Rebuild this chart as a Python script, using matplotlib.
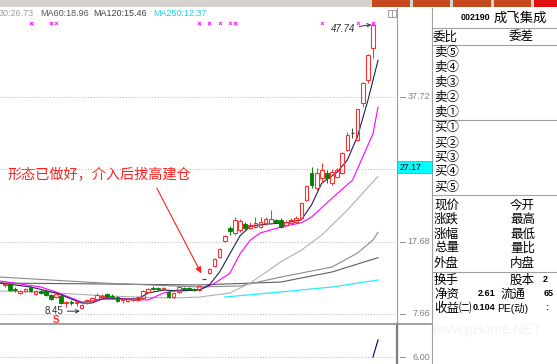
import matplotlib
matplotlib.use("Agg")
import matplotlib.pyplot as plt
from matplotlib.patches import Rectangle
import numpy as np

plt.rcParams['font.family'] = ['Liberation Sans', 'Noto Sans CJK SC', 'DejaVu Sans']
CJK = ['Noto Sans CJK SC', 'DejaVu Sans']

# daily candles, oldest first
opens = [11.68, 11.82, 11.12, 10.57, 10.85, 11.40, 10.43, 10.85, 10.85, 10.29,
         10.01, 10.15, 9.18, 9.32, 9.18, 8.49, 9.18, 9.46, 9.74, 10.01,
         10.43, 10.15, 10.01, 9.60, 9.46, 9.60, 9.60, 9.88, 10.71, 11.26,
         11.26, 11.12, 10.71, 10.01, 10.71, 11.26, 11.26, 11.12, 10.98, 12.51,
         13.34, 14.31, 15.55, 17.77, 19.57, 18.88, 19.30, 20.12, 19.57, 19.71,
         19.71, 20.26, 20.26, 20.68, 20.68, 19.99, 20.26, 20.40, 20.96, 23.45,
         27.19, 25.12, 26.50, 27.19, 25.81, 26.64, 27.19, 30.37, 32.66, 31.76,
         36.88, 40.07, 44.50]
highs = [12.09, 11.95, 11.40, 10.98, 11.26, 11.54, 10.98, 11.12, 10.98, 10.43,
         10.57, 10.29, 9.46, 9.60, 9.46, 9.04, 9.74, 10.01, 10.57, 10.43,
         10.57, 10.43, 10.15, 9.88, 9.88, 10.01, 10.15, 10.98, 11.26, 11.54,
         11.40, 11.40, 10.85, 10.71, 11.54, 11.40, 11.40, 11.26, 11.68, 12.55,
         14.03, 15.42, 16.80, 18.60, 19.85, 21.09, 20.82, 20.40, 20.40, 21.09,
         21.09, 21.09, 22.06, 20.82, 20.96, 20.68, 20.96, 21.23, 23.03, 25.53,
         28.02, 27.88, 28.57, 27.60, 27.74, 27.88, 30.10, 32.86, 33.42, 36.05,
         39.79, 43.67, 47.74]
lows = [11.40, 10.85, 10.71, 10.43, 10.71, 10.71, 10.29, 10.43, 10.15, 9.60,
        9.88, 9.04, 8.63, 8.91, 8.77, 8.45, 9.04, 9.32, 9.60, 9.88,
        9.88, 9.88, 9.32, 9.18, 9.32, 9.46, 9.46, 9.74, 10.57, 10.98,
        10.98, 10.98, 9.88, 9.88, 10.57, 10.98, 10.98, 10.85, 10.85, 12.47,
        13.20, 14.17, 15.42, 17.63, 18.60, 18.60, 19.02, 19.30, 19.43, 19.57,
        19.57, 19.99, 20.12, 20.26, 19.57, 19.85, 20.12, 20.26, 20.82, 23.31,
        25.12, 24.83, 25.81, 25.81, 25.53, 26.50, 27.05, 30.24, 32.04, 31.62,
        36.33, 39.65, 43.12]
closes = [11.82, 10.98, 10.98, 10.85, 11.12, 10.85, 10.85, 10.57, 10.29, 9.74,
          10.43, 9.18, 9.32, 9.18, 9.32, 8.91, 9.60, 9.88, 10.29, 10.15,
          10.01, 10.01, 9.46, 9.74, 9.74, 9.74, 10.01, 10.85, 11.12, 11.12,
          11.12, 11.26, 10.01, 10.57, 11.40, 11.12, 11.12, 10.98, 11.54, 12.51,
          13.89, 15.28, 16.66, 18.46, 19.16, 20.68, 20.54, 19.57, 19.99, 20.26,
          20.40, 20.82, 20.82, 20.40, 19.71, 20.40, 20.68, 20.96, 23.03, 25.39,
          25.53, 27.19, 27.60, 26.50, 27.33, 27.60, 29.96, 32.45, 32.66, 36.05,
          39.65, 43.53, 47.74]

# moving averages read at a few candle positions
ma5_idx = [-1, 5, 10, 15, 17, 19, 23, 26, 28, 31, 34, 38, 40, 42, 44, 46, 48, 51,
           55, 58, 60, 62, 65, 67, 69, 71, 73]
ma5_val = [11.95, 11.40, 10.57, 9.18, 9.18, 9.74, 9.74, 9.74, 10.57, 10.98, 10.85,
           10.98, 11.68, 13.48, 16.0, 18.5, 19.8, 20.1, 20.3, 20.7, 22.8, 25.8,
           27.3, 29.0, 32.3, 37.2, 42.8]
ma10_idx = [-1, 7, 10, 15, 17, 20, 28, 31, 34, 38, 41, 44, 46, 48, 50, 54, 58, 60,
            64, 68, 70, 72, 73]
ma10_val = [12.23, 11.40, 10.71, 9.32, 9.46, 9.88, 9.60, 10.57, 10.98, 10.98, 11.90,
            13.30, 16.0, 17.9, 18.9, 19.7, 20.3, 21.1, 23.7, 26.2, 29.4, 32.6, 36.3]
ma30_idx = [-1, 9, 19, 28, 33, 38, 44, 48, 52, 54, 58, 62, 67, 73]
ma30_val = [10.85, 10.60, 10.20, 9.95, 9.88, 10.00, 10.57, 11.95, 13.90, 14.90,
            16.50, 18.60, 22.06, 26.73]
ma60_idx = [-1, 19, 38, 46, 54, 64, 69, 72, 73]
ma60_val = [12.78, 11.95, 11.40, 11.54, 12.78, 14.17, 16.11, 17.91, 18.96]
ma120_idx = [-1, 19, 38, 54, 64, 73]
ma120_val = [11.95, 11.82, 11.68, 12.09, 13.48, 15.46]
ma250_idx = [43, 54, 64, 73]
ma250_val = [10.01, 10.71, 11.40, 12.37]

signal_idx = [5, 9, 10, 38, 40, 42, 44, 45, 62, 69, 72]
grid_vals = [7.66, 17.68, 27.70, 37.72]
label_vals = [7.66, 17.68, 37.72]
last_price = 27.17

ind_idx = [72, 73]
ind_val = [6.0, 7.7]

RED = '#ff3030'
GREEN = '#008000'

W, H = 557, 364
fig = plt.figure(figsize=(W / 100, H / 100), dpi=100)


def box(x, y, w, h):
    return [x / W, 1 - (y + h) / H, w / W, h / H]


bg = fig.add_axes([0, 0, 1, 1])
bg.set_xlim(0, W)
bg.set_ylim(H, 0)
bg.axis('off')

# top toolbar strip
bg.add_patch(Rectangle((0, 0), W, 7, facecolor='#d6d3ce', edgecolor='none'))
for x0, x1 in [(372, 410), (413, 450), (453, 491), (494, 531)]:
    bg.add_patch(Rectangle((x0, 0), x1 - x0, 6.5, facecolor='#c24a1c', edgecolor='none'))
bg.add_patch(Rectangle((534, 0), 23, 6.5, facecolor='#e01010', edgecolor='none'))

# frame lines
bg.plot([397, 397], [8, 364], color='#a0a0a0', lw=0.8)
bg.plot([397, 397], [324, 364], color='#808080', lw=1.6)
bg.plot([0, 432], [324, 324], color='#909090', lw=1.2)
bg.plot([432, 432], [8, 364], color='#a0a0a0', lw=0.8)
for yy in [28, 45, 120, 195, 272]:
    bg.plot([432, W], [yy, yy], color='#a0a0a0', lw=0.8)
bg.add_patch(Rectangle((388, 10), 8, 7, facecolor='white', edgecolor='#909090', lw=0.6))
bg.plot([392, 392], [10, 17], color='#909090', lw=0.6)

# MA header
bg.text(-1, 14, '30:26.73', color='#a0a0a0', fontsize=6.5, va='center')
bg.text(40, 14, 'MA60:18.96', color='#555555', fontsize=6.5, va='center')
bg.text(93, 14, 'MA120:15.46', color='#404040', fontsize=6.5, va='center')
bg.text(153, 14, 'MA250:12.37', color='#20d0e0', fontsize=6.5, va='center')

# right quote panel
bg.text(461, 18, '002190', fontsize=6.4, fontweight='bold', va='center')
bg.text(494, 18, '成飞集成', fontsize=9.6, family=CJK, va='center')
bg.text(433, 37, '委比', fontsize=9, family=CJK, va='center')
bg.text(509, 37, '委差', fontsize=9, family=CJK, va='center')
for s, yy in zip(['卖⑤', '卖④', '卖③', '卖②', '卖①'], [52, 67, 82, 97, 112]):
    bg.text(434, yy, s, fontsize=9, family=CJK, va='center')
for s, yy in zip(['买①', '买②', '买③', '买④', '买⑤'], [128, 143, 157, 172, 187]):
    bg.text(434, yy, s, fontsize=9, family=CJK, va='center')
left_q = ['现价', '涨跌', '涨幅', '总量', '外盘']
right_q = ['今开', '最高', '最低', '量比', '内盘']
for a, b, yy in zip(left_q, right_q, [205, 219, 234, 248, 263]):
    bg.text(434, yy, a, fontsize=9, family=CJK, va='center')
    bg.text(510, yy, b, fontsize=9, family=CJK, va='center')
bg.text(434, 280, '换手', fontsize=9, family=CJK, va='center')
bg.text(510, 280, '股本', fontsize=9, family=CJK, va='center')
bg.text(543, 280, '2', fontsize=6.5, fontweight='bold', va='center')
bg.text(434, 294, '净资', fontsize=9, family=CJK, va='center')
bg.text(495, 294, '2.61', fontsize=6.5, fontweight='bold', va='center', ha='right')
bg.text(500, 294, '流通', fontsize=9, family=CJK, va='center')
bg.text(544, 294, '65', fontsize=6.5, fontweight='bold', va='center')
bg.text(434, 308, '收益㈡', fontsize=9, family=CJK, va='center')
bg.text(495, 308, '0.104', fontsize=6.5, fontweight='bold', va='center', ha='right')
bg.text(497, 308, 'PE(动)', fontsize=7.5, va='center')
bg.text(545, 308, ':', fontsize=6.5, fontweight='bold', va='center')
bg.text(432, 330, 'www.pHome.NET', fontsize=10, color='#f0f4f9', va='center')

# main price panel
ax = fig.add_axes(box(0, 8, 397, 316))
ax.set_xlim(-0.978, 76.71)
ax.set_ylim(6.275, 50.04)
ax.axis('off')

ytr = ax.get_yaxis_transform()
for v in grid_vals:
    ax.axhline(v, color='#b4b4b4', lw=0.7, ls=(0, (1, 2)), zorder=1)
    ax.plot([1.008, 1.02], [v, v], color='#909090', lw=0.7, transform=ytr, clip_on=False)
for v in label_vals:
    ax.text(1.083, v, '%.2f' % v, transform=ytr, ha='right', va='center',
            fontsize=6.5, color='#808080')
ax.add_patch(Rectangle((1.0, last_price), 0.088, 1.66, transform=ytr, clip_on=False,
                       facecolor='#00ffff', edgecolor='#40a0a0', lw=0.5, zorder=5))
ax.text(1.006, last_price + 0.83, '%.2f' % last_price, transform=ytr, va='center',
        fontsize=6.3, color='black', zorder=6)

ax.plot(ma250_idx, ma250_val, color='#22eef8', lw=0.9, zorder=2)
ax.plot(ma120_idx, ma120_val, color='#5e5e5e', lw=0.8, zorder=2)
ax.plot(ma60_idx, ma60_val, color='#8a8a8a', lw=0.8, zorder=2)
ax.plot(ma30_idx, ma30_val, color='#b0b0b0', lw=0.8, zorder=2)
ax.plot(ma10_idx, ma10_val, color='#ff00ff', lw=0.8, zorder=2)
ax.plot(ma5_idx, ma5_val, color='#202050', lw=0.8, zorder=2)

o = np.array(opens)
h = np.array(highs)
l = np.array(lows)
c = np.array(closes)
x = np.arange(len(o))
w = 0.72
up = c > o
dn = c < o
fl = c == o

ax.vlines(x[up], c[up], h[up], color=RED, lw=0.7, zorder=3)
ax.vlines(x[up], l[up], o[up], color=RED, lw=0.7, zorder=3)
ax.bar(x[up], c[up] - o[up], bottom=o[up], width=w, facecolor='none',
       edgecolor=RED, lw=0.8, zorder=3)
ax.vlines(x[dn], l[dn], h[dn], color=GREEN, lw=0.7, zorder=3)
ax.bar(x[dn], o[dn] - c[dn], bottom=c[dn], width=w, facecolor=GREEN,
       edgecolor=GREEN, lw=0.6, zorder=3)
ax.vlines(x[fl], l[fl], h[fl], color='#404040', lw=0.7, zorder=3)
ax.hlines(o[fl], x[fl] - w / 2, x[fl] + w / 2, color='#404040', lw=0.8, zorder=3)

# signal marks along the top
xtr = ax.get_xaxis_transform()
ax.scatter(signal_idx, [0.9525] * len(signal_idx), transform=xtr, marker='x',
           s=5, color='#ff00ff', lw=0.6, zorder=4)

lo_i = int(np.argmin(l))
ax.annotate('%.2f' % l[lo_i], xy=(lo_i - 0.35, l[lo_i] - 0.4),
            xytext=(lo_i - 3.6, l[lo_i] - 0.4), ha='right', va='center',
            fontsize=7, color='#303030',
            arrowprops=dict(arrowstyle='->', color='#303030', lw=0.7,
                            shrinkA=1, shrinkB=0, mutation_scale=6))
ax.text(lo_i - 5, 0.013, 'S', transform=xtr, color=RED, fontsize=7,
        fontweight='bold', ha='center', va='center')

hi_i = int(np.argmax(h))
ax.annotate('%.2f' % h[hi_i], xy=(hi_i - 0.3, h[hi_i]),
            xytext=(hi_i - 3.5, h[hi_i] - 0.6), ha='right', va='center',
            fontsize=7, style='italic', color='#303030',
            arrowprops=dict(arrowstyle='->', color='#303030', lw=0.7,
                            shrinkA=1, shrinkB=0, mutation_scale=6))

# comment and arrow
bg.text(8, 174, '形态已做好，介入后拔高建仓', color='#ff2020', fontsize=10.2,
        family=CJK, va='center')
ax.annotate('', xy=(38.4, 13.3), xytext=(29.7, 25.1),
            arrowprops=dict(arrowstyle='-|>', color='#ff2020', lw=0.8,
                            mutation_scale=9, shrinkA=0, shrinkB=0))

# lower indicator panel
ax2 = fig.add_axes(box(0, 324, 397, 40))
ax2.set_xlim(-0.978, 76.71)
ax2.set_ylim(5.3, 9.3)
ax2.axis('off')
ax2.axhline(6.0, color='#b4b4b4', lw=0.7, ls=(0, (1, 2)))
ytr2 = ax2.get_yaxis_transform()
ax2.plot([1.008, 1.02], [6.0, 6.0], color='#909090', lw=0.7, transform=ytr2, clip_on=False)
ax2.text(1.083, 6.0, '6.00', transform=ytr2, ha='right', va='center',
         fontsize=6.5, color='#808080')
ax2.plot(ind_idx, ind_val, color='#000080', lw=0.8)

fig.savefig('out.png', dpi=100)
